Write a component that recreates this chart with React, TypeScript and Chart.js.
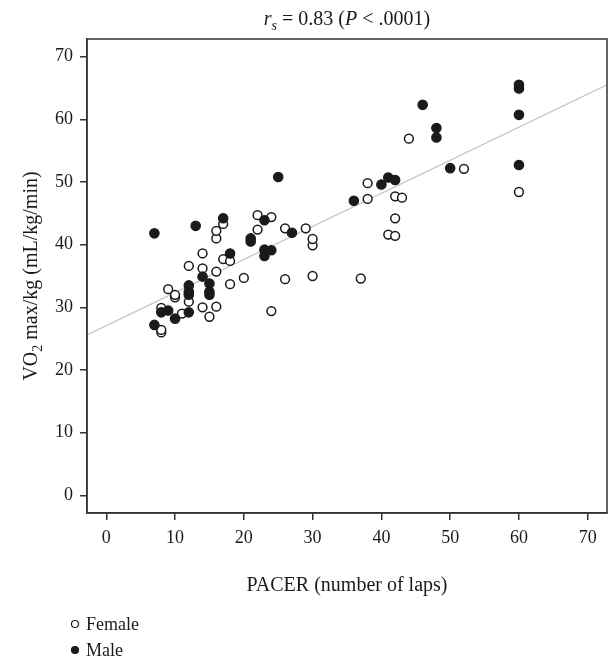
import React, { useEffect, useRef } from "react";
import { Chart, registerables } from "chart.js";

Chart.register(...registerables);

// ---- data ----
const femaleX = [8, 8, 8, 9, 10, 10, 11, 12, 12, 14, 14, 14, 15, 16, 16, 16, 16, 17, 17, 18, 18, 20, 22, 22, 24, 24, 26, 26, 29, 30, 30, 30, 37, 38, 38, 41, 42, 42, 42, 43, 44, 52, 60];
const femaleY = [26.0, 26.4, 29.9, 32.9, 31.6, 32.0, 29.0, 30.9, 36.6, 30.0, 36.2, 38.6, 28.5, 30.1, 35.7, 41.0, 42.2, 37.7, 43.3, 33.7, 37.4, 34.7, 42.4, 44.7, 29.4, 44.4, 34.5, 42.6, 42.6, 35.0, 39.9, 40.9, 34.6, 47.3, 49.8, 41.6, 41.4, 44.2, 47.7, 47.5, 56.9, 52.1, 48.4];

const maleX = [7, 7, 8, 9, 10, 12, 12, 12, 12, 13, 14, 15, 15, 15, 17, 18, 21, 21, 23, 23, 23, 24, 25, 27, 36, 40, 41, 42, 46, 48, 48, 50, 60, 60, 60, 60];
const maleY = [27.2, 41.8, 29.2, 29.5, 28.2, 29.2, 32.0, 32.5, 33.5, 43.0, 34.9, 32.0, 32.5, 33.8, 44.2, 38.6, 40.5, 41.0, 38.2, 39.2, 43.9, 39.1, 50.8, 41.9, 47.0, 49.6, 50.7, 50.3, 62.3, 57.1, 58.6, 52.2, 52.7, 60.7, 64.9, 65.5];

// regression line endpoints (read at the plot's left and right edges)
const fitX = [-2.8, 72.8];
const fitY = [25.6, 65.5];

const xTicks = [0, 10, 20, 30, 40, 50, 60, 70];
const yTicks = [0, 10, 20, 30, 40, 50, 60, 70];

const xRange = [-2.8, 72.8];
const yRange = [-2.8, 72.8];

const titleParts = [
  { text: "r", italic: true },
  { text: "s", italic: true, sub: true },
  { text: " = 0.83 (" },
  { text: "P", italic: true },
  { text: " < .0001)" },
];
const yTitleParts = [
  { text: "VO" },
  { text: "2", sub: true },
  { text: " max/kg (mL/kg/min)" },
];
const xTitle = "PACER (number of laps)";
const legendLabels = ["Female", "Male"];

const FONT = "'Liberation Serif', 'Times New Roman', serif";
const INK = "#1a1a1a";
const AXIS = "#333333";

type Part = { text: string; italic?: boolean; sub?: boolean };

function drawRich(ctx: CanvasRenderingContext2D, parts: Part[], cx: number, baseline: number, size: number) {
  const fontFor = (p: Part) =>
    `${p.italic ? "italic " : ""}${p.sub ? Math.round(size * 0.72) : size}px ${FONT}`;
  let total = 0;
  const widths = parts.map((p) => {
    ctx.font = fontFor(p);
    const w = ctx.measureText(p.text).width;
    total += w;
    return w;
  });
  let x = cx - total / 2;
  ctx.textAlign = "left";
  ctx.textBaseline = "alphabetic";
  parts.forEach((p, i) => {
    ctx.font = fontFor(p);
    ctx.fillText(p.text, x, baseline + (p.sub ? size * 0.25 : 0));
    x += widths[i];
  });
}

const decorPlugin = {
  id: "decor",
  afterDraw(chart: any) {
    const ctx: CanvasRenderingContext2D = chart.ctx;
    const a = chart.chartArea;
    ctx.save();
    // frame
    ctx.strokeStyle = AXIS;
    ctx.lineWidth = 1.5;
    ctx.strokeRect(a.left, a.top, a.right - a.left, a.bottom - a.top);
    ctx.fillStyle = INK;
    const cx = (a.left + a.right) / 2;
    // title
    drawRich(ctx, titleParts, cx, 25, 20);
    // x title
    ctx.font = `20px ${FONT}`;
    ctx.textAlign = "center";
    ctx.textBaseline = "alphabetic";
    ctx.fillText(xTitle, cx, 591);
    // y title
    ctx.save();
    ctx.translate(37, (a.top + a.bottom) / 2);
    ctx.rotate(-Math.PI / 2);
    drawRich(ctx, yTitleParts, 0, 0, 20);
    ctx.restore();
    // legend
    const rows = [624, 650];
    legendLabels.forEach((lab, i) => {
      ctx.beginPath();
      ctx.arc(75, rows[i], 3.5, 0, Math.PI * 2);
      ctx.lineWidth = 1.2;
      ctx.strokeStyle = INK;
      ctx.fillStyle = i === 0 ? "#ffffff" : INK;
      ctx.fill();
      ctx.stroke();
      ctx.fillStyle = INK;
      ctx.font = `18px ${FONT}`;
      ctx.textAlign = "left";
      ctx.textBaseline = "middle";
      ctx.fillText(lab, 86, rows[i] + 1);
    });
    ctx.restore();
  },
};

export default function App() {
  const ref = useRef<HTMLCanvasElement | null>(null);
  useEffect(() => {
    if (!ref.current) return;
    const chart = new Chart(ref.current, {
      type: "scatter",
      data: {
        datasets: [
          {
            label: "Male",
            data: maleX.map((x, i) => ({ x, y: maleY[i] })),
            pointRadius: 4.7,
            pointBorderWidth: 1.2,
            backgroundColor: INK,
            borderColor: INK,
          },
          {
            label: "Female",
            data: femaleX.map((x, i) => ({ x, y: femaleY[i] })),
            pointRadius: 4.4,
            pointBorderWidth: 1.5,
            backgroundColor: "#ffffff",
            borderColor: INK,
          },
          {
            type: "line",
            label: "fit",
            data: fitX.map((x, i) => ({ x, y: fitY[i] })),
            showLine: true,
            pointRadius: 0,
            borderColor: "#c4c4c4",
            borderWidth: 1.3,
          } as any,
        ],
      },
      options: {
        animation: false,
        responsive: false,
        maintainAspectRatio: false,
        layout: { autoPadding: false, padding: { top: 39, right: 1, left: 0, bottom: 0 } },
        plugins: {
          legend: { display: false },
          tooltip: { enabled: false },
          title: { display: false },
        },
        scales: {
          x: {
            type: "linear",
            min: xRange[0],
            max: xRange[1],
            afterBuildTicks: (s: any) => {
              s.ticks = xTicks.map((v) => ({ value: v }));
            },
            afterFit: (s: any) => {
              s.height = 145;
              s.paddingLeft = 0;
              s.paddingRight = 0;
            },
            ticks: {
              font: { family: FONT, size: 18 },
              color: INK,
              padding: 7,
              maxRotation: 0,
            },
            grid: {
              display: true,
              drawOnChartArea: false,
              drawTicks: true,
              tickLength: 7,
              color: AXIS,
              lineWidth: 1.5,
            },
            border: { display: true, color: AXIS, width: 1.5 },
          },
          y: {
            type: "linear",
            min: yRange[0],
            max: yRange[1],
            afterBuildTicks: (s: any) => {
              s.ticks = yTicks.map((v) => ({ value: v }));
            },
            afterFit: (s: any) => {
              s.width = 87;
              s.paddingTop = 0;
              s.paddingBottom = 0;
            },
            ticks: {
              font: { family: FONT, size: 18 },
              color: INK,
              padding: 7,
            },
            grid: {
              display: true,
              drawOnChartArea: false,
              drawTicks: true,
              tickLength: 7,
              color: AXIS,
              lineWidth: 1.5,
            },
            border: { display: true, color: AXIS, width: 1.5 },
          },
        },
      },
      plugins: [decorPlugin],
    });
    return () => chart.destroy();
  }, []);
  return (
    <div style={{ position: "fixed", left: 0, top: 0, width: 608, height: 658, background: "#fff" }}>
      <canvas ref={ref} width={608} height={658} style={{ display: "block", width: 608, height: 658 }} />
    </div>
  );
}
